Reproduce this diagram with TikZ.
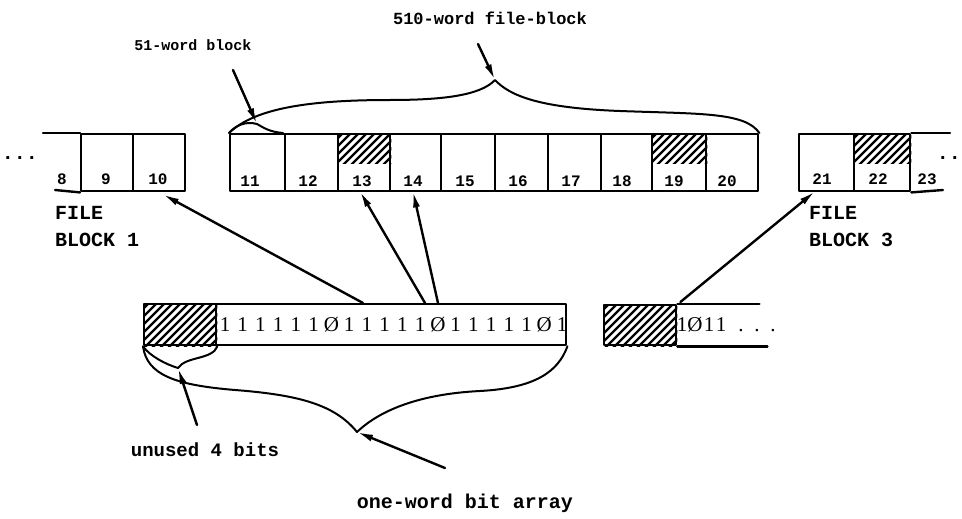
\documentclass[tikz,border=0pt]{standalone}
\usepackage{fontspec}
\setmonofont{Liberation Mono}
\newfontfamily\bitfont{Liberation Serif}
\usetikzlibrary{calc,arrows.meta}
\newcommand\hatchbox[2]{%
  \begin{scope}
    \clip #1 rectangle #2;
    \foreach \k in {-110,-102,...,90}
      \draw[line width=2.3pt, line cap=butt] ($#1+(\k,60)$) -- ++(120,-120);
  \end{scope}}
\tikzset{
  cell/.style={draw, rectangle, minimum width=#1, minimum height=57pt, inner sep=0pt, anchor=north west},
  arr/.style={-{Latex[length=16pt,width=7pt]}},
  brace/.style={line width=2pt},
  num/.style={font=\ttfamily\bfseries\fontsize{16}{16}\selectfont, anchor=base, inner sep=0pt},
  lbl/.style={font=\ttfamily\bfseries\fontsize{#1}{#1}\selectfont, inner sep=0pt},
  bit/.style={font=\bitfont\fontsize{21}{21}\selectfont, anchor=base, inner sep=0pt},
  bitbox/.style={draw, minimum height=41pt, inner sep=0pt, anchor=north west},
}
\begin{document}
\begin{tikzpicture}[x=1pt,y=-1pt, line width=2.4pt, line join=round, line cap=round]
\clip (0,0) rectangle (962,519);
\fill[white] (0,0) rectangle (962,519);

% ---------- left file block ----------
\node[cell=52pt] (c9) at (80,133) {};
\node[cell=52pt] (c10) at (132,133) {};
\draw (43,133) -- (c9.north west);
\draw (55,190) -- (c9.south west);
\node[num] (n8) at (62,184) {8};
\node[num] (n9) at (106,184) {9};
\node[num] (n10) at (158,184) {10};
\node[lbl=20] (dl) at (20,158) {...};
\node[lbl=20, anchor=north west, align=left] (fb1) at (54,205) {FILE\\[7pt]BLOCK 1};

% ---------- middle file block ----------
\foreach \n/\a/\w/\lx in {11/229/55/250, 12/284/53/308, 13/337/52/362, 14/389/51/413,
  15/440/54/465, 16/494/53/518, 17/547/53/571, 18/600/51/622, 19/651/54/674, 20/705/52/727}{
  \node[cell=\w pt] (c\n) at (\a,133) {};
  \node[num] (n\n) at (\lx,186) {\n};
}
\hatchbox{(c13.north west)}{($(c13.north east)+(0,30)$)}
\hatchbox{(c19.north west)}{($(c19.north east)+(0,30)$)}

% ---------- right file block ----------
\node[cell=55pt] (c21) at (798,133) {};
\node[cell=56pt] (c22) at (853,133) {};
\hatchbox{(c22.north west)}{($(c22.north east)+(0,30)$)}
\draw (c22.north east) -- (950,133);
\draw (c22.south east) -- (943,190);
\node[num] (n21) at (822,184) {21};
\node[num] (n22) at (878,184) {22};
\node[num] (n23) at (927,184) {23};
\node[lbl=20, anchor=east] (dr) at (962,158) {..};
\node[lbl=20, anchor=north west, align=left] (fb3) at (808,205) {FILE\\[7pt]BLOCK 3};

% ---------- braces at top ----------
\coordinate (p510) at (495,80);
\coordinate (t510) at (478,44);
\draw[brace] (c11.north west) .. controls (255,108) and (310,100) .. (390,100)
  .. controls (440,100) and (480,96) .. (p510)
  .. controls (510,96) and (540,108) .. (620,111)
  .. controls (700,114) and (745,112) .. (c20.north east);
\coordinate (p51) at (257,124);
\coordinate (t51) at (233,70);
\draw[brace] (c11.north west) .. controls (236,125) and (246,121) .. (p51)
  .. controls (264,128) and (270,132) .. (283,133);
\draw[arr] (t510) -- (p510);
\draw[arr] (t51) -- (p51);
\node[lbl=17] (l510) at (490,18) {510-word file-block};
\node[lbl=15] (l51) at (193,45) {51-word block};

% ---------- bit arrays ----------
\node[bitbox, minimum width=72pt] (u1) at (143,303) {};
\hatchbox{(u1.north west)}{(u1.south east)}
\node[bitbox, minimum width=350pt] (bits) at (215,303) {};
\foreach \c [count=\i] in {1,1,1,1,1,1,Ø,1,1,1,1,1,Ø,1,1,1,1,1,Ø,1}{
  \node[bit] (b\i) at ({225+(\i-1)*17.74},331) {\c};
}
\node[bitbox, minimum width=72pt, minimum height=40pt] (u2) at (603,304) {};
\hatchbox{(u2.north west)}{(u2.south east)}
\draw (u2.north east) -- ++(82,0);
\draw (u2.south east) -- ++(90,0);
\foreach \c/\x [count=\i] in {1/682,Ø/695,1/709,1/721,./741,./757,./773}{
  \node[bit] (r\i) at (\x,331) {\c};
}

% ---------- arrows from bit array to blocks ----------
\draw[arr] ($(bits.north west)+(148,0)$) -- ($(c10.south west)+(31,2)$);
\draw[arr] ($(bits.north west)+(210,0)$) -- ($(c13.south west)+(23,-1)$);
\draw[arr] ($(bits.north west)+(223,0)$) -- ($(c14.south west)+(24,-1)$);
\draw[arr] ($(u2.north east)+(3,-2)$) -- ($(c21.south west)+(17,-1)$);

% ---------- braces at bottom ----------
\coordinate (pu) at (178,368);
\coordinate (tu) at (197,425);
\coordinate (pb) at (357,432);
\coordinate (tb) at (445,468);
\draw[brace] (u1.south west) .. controls (150,356) and (165,364) .. (pu)
  .. controls (186,356) and (212,360) .. (u1.south east);
\draw[brace] (u1.south west) .. controls (147,375) and (175,385) .. (235,390)
  .. controls (300,395) and (335,405) .. (pb)
  .. controls (380,410) and (420,394) .. (480,391)
  .. controls (535,388) and (558,372) .. (bits.south east);
\draw[arr] (tu) -- (pu);
\draw[arr] (tb) -- (pb);
\node[lbl=19] (lu) at (205,450) {unused 4 bits};
\node[lbl=20] (lb) at (465,503) {one-word bit array};
\end{tikzpicture}
\end{document}
